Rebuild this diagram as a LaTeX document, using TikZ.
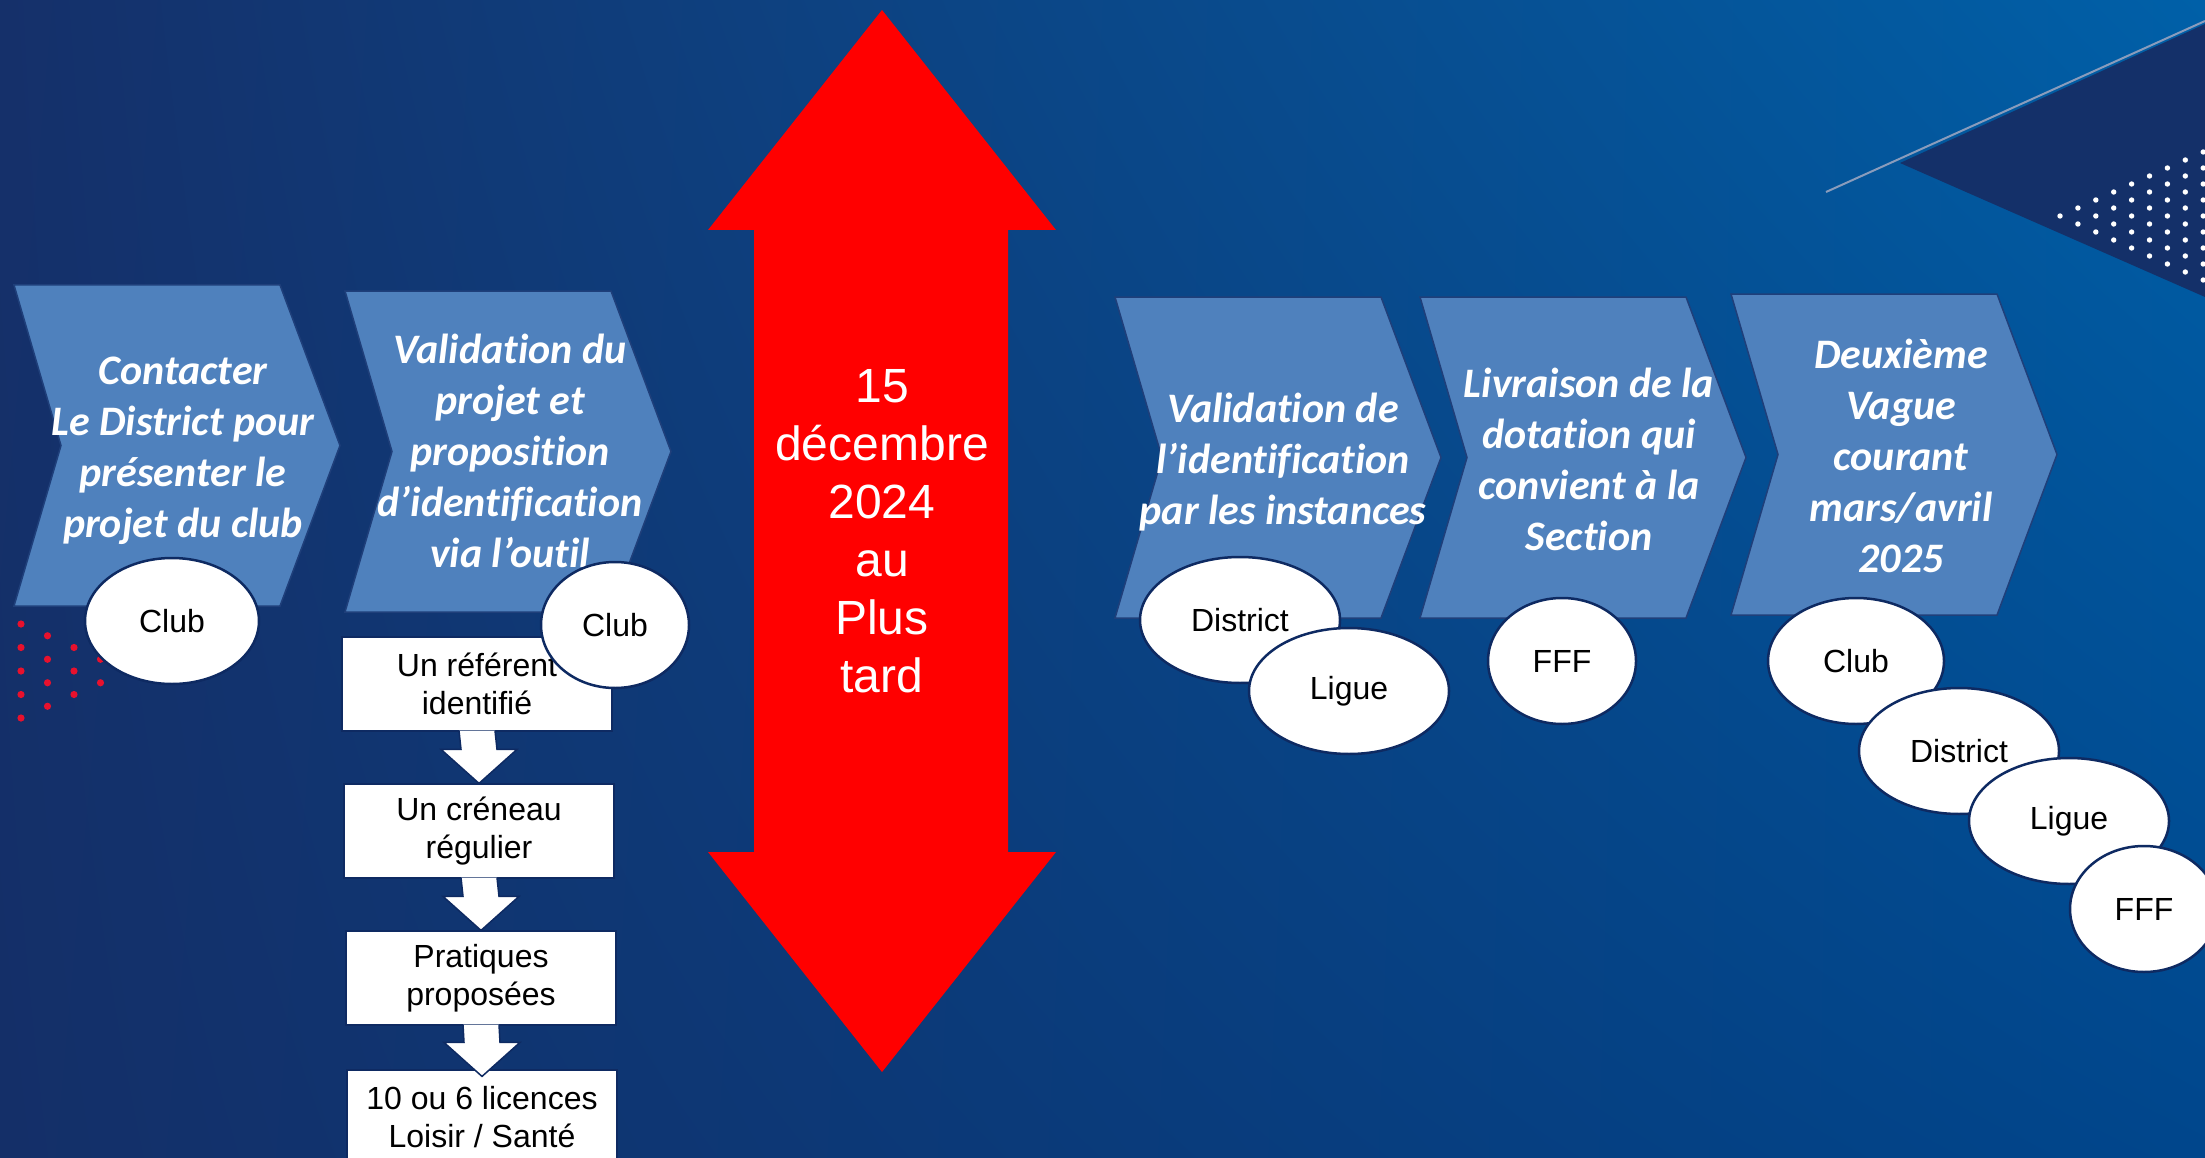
\documentclass[tikz,border=0pt]{standalone}
\usepackage{fontspec}
\setmainfont{Liberation Sans}
\newfontfamily\chevfont[Ligatures=NoCommon]{Carlito}
\usetikzlibrary{shapes.geometric,calc,shadings}
\definecolor{bgUL}{HTML}{15306A}
\definecolor{bgUR}{HTML}{0060A8}
\definecolor{bgLL}{HTML}{142F68}
\definecolor{bgLR}{HTML}{00468C}
\definecolor{navydark}{HTML}{143069}
\definecolor{chevblue}{HTML}{4F81BD}
\definecolor{chevline}{HTML}{1F3F7A}
\definecolor{ellnavy}{HTML}{0E2A62}
\definecolor{dotred}{HTML}{E8112D}
\definecolor{linegray}{HTML}{8A9CBC}
\tikzset{
  chevshape/.style={fill=chevblue, draw=chevline, line width=1.5},
  chevtext/.style={text=white, font=\chevfont\bfseries\itshape\fontsize{42}{51}\selectfont, align=center, inner sep=0},
  who/.style={ellipse, fill=white, draw=ellnavy, line width=2.5, inner sep=0, minimum height=126, font=\fontsize{32}{38}\selectfont, text=black},
  stepbox/.style={rectangle, fill=white, draw=ellnavy, line width=1.2, minimum width=270, minimum height=94, inner sep=0, align=center, font=\fontsize{32}{38}\selectfont, text=black},
  barrow/.style={fill=white, draw=ellnavy, line width=1.5, line join=miter},
  datetext/.style={text=white, font=\fontsize{48}{58}\selectfont, align=center, inner sep=0},
  chevron/.pic={\path[chevshape] (0,0) -- (266,0) -- (326,160.5) -- (266,321) -- (0,321) -- (47,160.5) -- cycle;}
}
\begin{document}
\begin{tikzpicture}[x=1pt,y=-1pt]
\useasboundingbox (0,0) rectangle (2205,1158);
\begin{scope}
\clip (0,0) rectangle (2205,1158);
% background
\shade[upper left=bgUL, upper right=bgUR, lower left=bgLL, lower right=bgLR] (0,0) rectangle (2205,1158);
% top-right decoration
\fill[navydark] (1900,163) -- (2205,24) -- (2205,297) -- cycle;
\draw[linegray, line width=2] (1826,192) -- (2205,21);
\foreach \k in {0,...,8} {
  \foreach \j in {0,...,\k} {
    \fill[white] ({2060+17.9*\k},{216-8*\k+16*\j}) circle (2.7);
  }
}
% red dots bottom-left
\foreach \k in {0,...,3} {
  \pgfmathtruncatemacro{\nmax}{4-\k}
  \foreach \j in {0,...,\nmax} {
    \fill[dotred] ({21+26.5*\k},{624+11.75*\k+23.5*\j}) circle (3.6);
  }
}
% chevrons
\pic at (14,285) {chevron};
\pic at (345,291) {chevron};
\pic at (1115,297) {chevron};
\pic at (1420,297) {chevron};
\pic at (1731,294) {chevron};
\node[chevtext] (t1) at (183,451) {Contacter\\Le District pour\\présenter le\\projet du club};
\node[chevtext] (t2) at (510,451) {Validation du\\projet et\\proposition\\d’identification\\via l’outil};
\node[chevtext] (t3) at (1283,462) {Validation de\\l’identification\\par les instances};
\node[chevtext] (t4) at (1589,459) {Livraison de la\\dotation qui\\convient à la\\Section};
\node[chevtext] (t5) at (1901,456) {Deuxième\\Vague\\courant\\mars/avril\\2025};
% red double arrow
\fill[red] (882,10) -- (1056,230) -- (1008,230) -- (1008,852) -- (1056,852) -- (882,1072) -- (708,852) -- (754,852) -- (754,230) -- (708,230) -- cycle;
\node[datetext] (date) at (882,531) {15\\décembre\\2024\\au\\Plus\\tard};
% steps
\node[stepbox] (b1) at (477,684) {Un référent\\identifié};
\node[stepbox] (b2) at (479,831) {Un créneau\\régulier};
\node[stepbox] (b3) at (481,978) {Pratiques\\proposées};
\node[stepbox] (b4) at (482,1117) {10 ou 6 licences\\Loisir / Santé};
\foreach \a/\b/\d in {b1/b2/0, b2/b3/0, b3/b4/7} {
  \draw[barrow] ([xshift=-18pt,yshift=1pt]\a.south) -- ([xshift=-18pt,yshift={34-\d}]\b.north) -- ([xshift=-38pt,yshift={34-\d}]\b.north) -- ([yshift=-\d]\b.north) -- ([xshift=38pt,yshift={34-\d}]\b.north) -- ([xshift=18pt,yshift={34-\d}]\b.north) -- ([xshift=18pt,yshift=1pt]\a.south);
}
% actors
\node[who, minimum width=174] (c1) at (172,621) {Club};
\node[who, minimum width=148] (c2) at (615,625) {Club};
\node[who, minimum width=200] (d3) at (1240,620) {District};
\node[who, minimum width=200] (l3) at (1349,691) {Ligue};
\node[who, minimum width=148] (f4) at (1562,661) {FFF};
\node[who, minimum width=176] (c5) at (1856,661) {Club};
\node[who, minimum width=200] (d5) at (1959,751) {District};
\node[who, minimum width=200] (l5) at (2069,821) {Ligue};
\node[who, minimum width=148] (f5) at (2144,909) {FFF};
\end{scope}
\end{tikzpicture}
\end{document}
